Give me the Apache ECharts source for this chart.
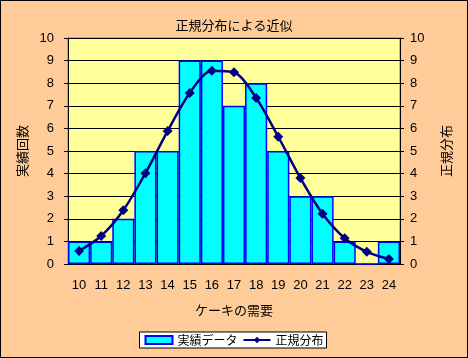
<!DOCTYPE html>
<html><head><meta charset="utf-8">
<script src="https://cdn.jsdelivr.net/npm/echarts@6/dist/echarts.min.js"></script>
<style>html,body{margin:0;padding:0;background:#FFCC99}#c{width:468px;height:358px;box-sizing:border-box;border:1px solid #000}</style>
</head><body><div id="c"></div>
<script>
const categories = ['10','11','12','13','14','15','16','17','18','19','20','21','22','23','24'];
const actualCounts = [1,1,2,5,5,9,9,7,8,5,3,3,1,0,1];
const normalValues = [0.58,1.24,2.38,4.02,5.88,7.57,8.55,8.48,7.35,5.63,3.80,2.22,1.14,0.54,0.22];
const yTicks = {min:0, max:10, interval:1};
const jp = '"Noto Sans CJK JP", sans-serif';
const num = 'Arial, "Liberation Sans", sans-serif';
const chart = echarts.init(document.getElementById('c'));
chart.setOption({
  backgroundColor: '#FFCC99',
  animation: false,
  title: {text:'正規分布による近似', left:'center', top:13, textStyle:{fontFamily:jp, fontSize:13, fontWeight:'normal', color:'#000'}},
  grid: {left:67, right:67, top:37, bottom:93, show:true, backgroundColor:'#FFFF99', borderColor:'#808080', borderWidth:1},
  legend: {bottom:9, left:'center', itemWidth:27, itemHeight:8, itemGap:5, backgroundColor:'#fff', borderColor:'#000', borderWidth:1, borderRadius:0, padding:[2,3,2,5],
    textStyle:{fontFamily:jp, fontSize:12, color:'#000'},
    data:[{name:'実績データ', icon:'rect'}, {name:'正規分布'}]},
  xAxis: {type:'category', data:categories, name:'ケーキの需要', nameLocation:'middle', nameGap:40,
    nameTextStyle:{fontFamily:jp, fontSize:13, color:'#000'},
    axisLine:{lineStyle:{color:'#000'}}, axisTick:{show:false},
    axisLabel:{fontFamily:num, fontSize:13, color:'#000', margin:15}},
  yAxis: [
    {type:'value', min:yTicks.min, max:yTicks.max, interval:yTicks.interval, name:'実績回数', nameLocation:'middle', nameGap:36, nameRotate:90,
      nameTextStyle:{fontFamily:jp, fontSize:13, color:'#000'},
      axisLine:{show:true, lineStyle:{color:'#000'}}, axisTick:{show:true, length:4, lineStyle:{color:'#000'}},
      axisLabel:{fontFamily:num, fontSize:13, color:'#000', margin:14},
      splitLine:{lineStyle:{color:'#000', width:1}}},
    {type:'value', min:yTicks.min, max:yTicks.max, interval:yTicks.interval, name:'正規分布', nameLocation:'middle', nameGap:40, nameRotate:90,
      nameTextStyle:{fontFamily:jp, fontSize:13, color:'#000'},
      axisLine:{show:true, lineStyle:{color:'#000'}}, axisTick:{show:true, length:4, lineStyle:{color:'#000'}},
      axisLabel:{fontFamily:num, fontSize:13, color:'#000', margin:10},
      splitLine:{show:false}}
  ],
  series: [
    {name:'実績データ', type:'bar', data:actualCounts, barCategoryGap:'0%', itemStyle:{color:'#00FFFF', borderColor:'#0000FF', borderWidth:1.5}},
    {name:'正規分布', type:'line', yAxisIndex:1, data:normalValues, smooth:0.3, symbol:'diamond', symbolSize:10,
      lineStyle:{color:'#000080', width:2.5}, itemStyle:{color:'#000080'}}
  ]
});
</script></body></html>
